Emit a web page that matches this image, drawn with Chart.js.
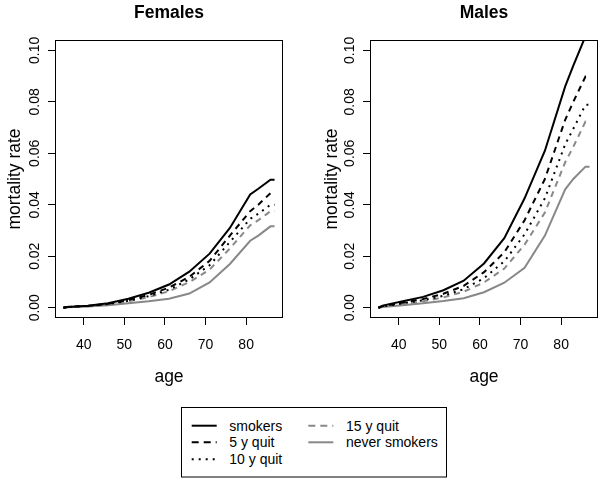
<!DOCTYPE html>
<html>
<head>
<meta charset="utf-8">
<script src="https://cdn.jsdelivr.net/npm/chart.js@4/dist/chart.umd.min.js"></script>
<style>
  body { margin: 0; background: #fff; }
  #wrap { position: relative; width: 600px; height: 478px; font-family: "Liberation Sans", Arial, Helvetica, sans-serif; color: #000; }
  canvas { position: absolute; top: 0; }
  .main { position: absolute; top: 0; width: 228px; text-align: center; font-weight: bold; font-size: 17.5px; line-height: 24px; }
  #legend { position: absolute; left: 181px; top: 407px; }
</style>
</head>
<body>
<div id="wrap">
  <canvas id="females" width="300" height="400" style="left:0"></canvas>
  <canvas id="males" width="300" height="400" style="left:300px"></canvas>
  <div class="main" style="left:55px">Females</div>
  <div class="main" style="left:370px">Males</div>
  <svg id="legend" width="268" height="71" font-family="Liberation Sans, Arial, sans-serif" font-size="14">
    <rect x="0.5" y="0.5" width="265" height="69.5" fill="none" stroke="#000" stroke-width="1"/>
    <line x1="10.7" y1="18.7" x2="35.7" y2="18.7" stroke="#000" stroke-width="2"/>
    <line x1="10.7" y1="35.3" x2="35.7" y2="35.3" stroke="#000" stroke-width="2" stroke-dasharray="7 5"/>
    <line x1="10.7" y1="52.3" x2="35.7" y2="52.3" stroke="#000" stroke-width="2" stroke-dasharray="2 5"/>
    <line x1="127.3" y1="18.7" x2="152.3" y2="18.7" stroke="#888" stroke-width="2" stroke-dasharray="7 5"/>
    <line x1="127.3" y1="35.3" x2="152.3" y2="35.3" stroke="#888" stroke-width="2"/>
    <text x="48.3" y="23.5">smokers</text>
    <text x="48.3" y="40.1">5 y quit</text>
    <text x="48.3" y="57.1">10 y quit</text>
    <text x="165" y="23.5">15 y quit</text>
    <text x="165" y="40.1">never smokers</text>
  </svg>
</div>
<script>
// data
const ages = [35, 36, 41, 46, 51, 56, 61, 66, 71, 76, 81, 83, 86, 87];

const F_smokers = [0, 0.0003, 0.0008, 0.0017, 0.0035, 0.0058, 0.009, 0.014, 0.021, 0.031, 0.044, 0.0462, 0.0497, 0.0497];
const F_quit5   = [0, 0.0003, 0.0007, 0.0015, 0.003, 0.005, 0.0078, 0.012, 0.0182, 0.028, 0.0375, 0.040, 0.0445, 0.0445];
const F_quit10  = [0, 0.0003, 0.0007, 0.0014, 0.0027, 0.0045, 0.007, 0.011, 0.0165, 0.0255, 0.0345, 0.0365, 0.040, 0.040];
const F_quit15  = [0, 0.0003, 0.0006, 0.0013, 0.0025, 0.0041, 0.0064, 0.0099, 0.0148, 0.023, 0.032, 0.034, 0.0375, 0.0375];
const F_never   = [0, 0.0002, 0.0005, 0.001, 0.0017, 0.0025, 0.0035, 0.0055, 0.0098, 0.017, 0.026, 0.028, 0.0316, 0.0316];

const M_smokers = [0, 0.0008, 0.0025, 0.0042, 0.0068, 0.0105, 0.0172, 0.027, 0.0425, 0.061, 0.086, 0.094, 0.1055, 0.108];
const M_quit5   = [0, 0.0006, 0.002, 0.0034, 0.0054, 0.0085, 0.0138, 0.0215, 0.034, 0.050, 0.073, 0.080, 0.0898, 0.0898];
const M_quit10  = [0, 0.0005, 0.0017, 0.0029, 0.0046, 0.0072, 0.0115, 0.018, 0.0285, 0.0425, 0.0635, 0.0695, 0.0788, 0.0788];
const M_quit15  = [0, 0.0004, 0.0014, 0.0025, 0.004, 0.0062, 0.0098, 0.0152, 0.0245, 0.037, 0.0565, 0.0625, 0.0723, 0.0723];
const M_never   = [0, 0.0003, 0.001, 0.0017, 0.0026, 0.0037, 0.006, 0.0097, 0.0155, 0.028, 0.046, 0.050, 0.0548, 0.0548];

const xTicks = [40, 50, 60, 70, 80];
const yTicks = [0, 0.02, 0.04, 0.06, 0.08, 0.10];

const GRAY = '#888888';

Chart.defaults.font.family = '"Liberation Sans", Arial, Helvetica, sans-serif';
Chart.defaults.color = '#000';

// R style box round the plot region
const boxPlugin = {
  id: 'box',
  afterDraw(chart) {
    const {ctx, chartArea: a} = chart;
    ctx.save();
    ctx.strokeStyle = '#000';
    ctx.lineWidth = 1;
    ctx.strokeRect(Math.round(a.left) + 0.5, Math.round(a.top) + 0.5,
                   Math.round(a.right - a.left) - 1, Math.round(a.bottom - a.top) - 1);
    ctx.restore();
  }
};

function series(label, values, color, dash){
  return {
    label: label,
    data: values.map((v, i) => ({x: ages[i], y: v})),
    borderColor: color,
    borderWidth: 2,
    borderDash: dash,
    pointRadius: 0,
    tension: 0,
    fill: false
  };
}

function makeChart(id, sets, yWidth, rightPad, yTitlePad){
  new Chart(document.getElementById(id), {
    type: 'line',
    data: {
      datasets: [
        series('smokers', sets[0], '#000', []),
        series('5 y quit', sets[1], '#000', [6, 5]),
        series('10 y quit', sets[2], '#000', [2, 5]),
        series('15 y quit', sets[3], GRAY, [6, 5]),
        series('never smokers', sets[4], GRAY, [])
      ]
    },
    options: {
      responsive: false,
      animation: false,
      devicePixelRatio: 1,
      layout: { padding: { top: 40, right: rightPad, left: 0, bottom: 0 } },
      plugins: { legend: { display: false }, tooltip: { enabled: false } },
      scales: {
        x: {
          type: 'linear',
          min: 32.92,
          max: 89.08,
          afterBuildTicks: s => { s.ticks = xTicks.map(v => ({value: v})); },
          afterFit: s => { s.height = 82; },
          ticks: { font: { size: 14 }, padding: 12, maxRotation: 0, callback: v => String(v) },
          grid: { drawOnChartArea: false, drawTicks: true, tickLength: 7, color: '#000' },
          border: { display: false },
          title: { display: true, text: 'age', font: { size: 17.5 }, padding: { top: 0, bottom: 12 } }
        },
        y: {
          type: 'linear',
          min: -0.004,
          max: 0.104,
          afterBuildTicks: s => { s.ticks = yTicks.map(v => ({value: v})); },
          afterFit: s => { s.width = yWidth; },
          ticks: { font: { size: 14 }, padding: 13, minRotation: 90, maxRotation: 90, labelOffset: -13.6,
                   callback: v => v.toFixed(2) },
          grid: { drawOnChartArea: false, drawTicks: true, tickLength: 7, color: '#000' },
          border: { display: false },
          title: { display: true, text: 'mortality rate', font: { size: 17.5 }, padding: { top: yTitlePad, bottom: 0 } }
        }
      }
    },
    plugins: [boxPlugin]
  });
}

makeChart('females', [F_smokers, F_quit5, F_quit10, F_quit15, F_never], 55, 17, 4.5);
makeChart('males', [M_smokers, M_quit5, M_quit10, M_quit15, M_never], 70, 2, 21.5);
</script>
</body>
</html>
